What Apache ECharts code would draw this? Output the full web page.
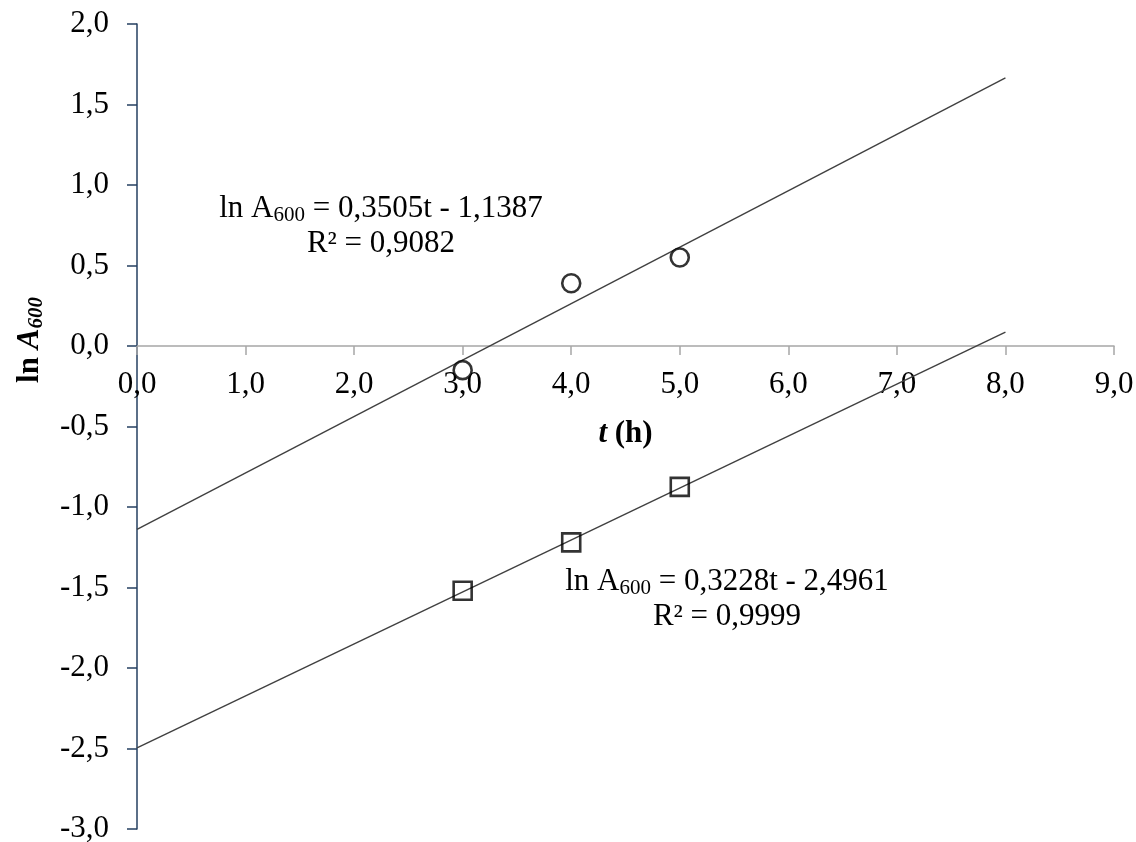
<!DOCTYPE html>
<html>
<head>
<meta charset="utf-8">
<script src="https://cdn.jsdelivr.net/npm/echarts@6/dist/echarts.min.js"></script>
<style>
  html, body { margin: 0; padding: 0; background: #fff; }
  #main { width: 1136px; height: 842px; }
</style>
</head>
<body>
<div id="main"></div>
<script>
var hours = [3, 4, 5];
var circleValues = [-0.15, 0.39, 0.55];
var squareValues = [-1.52, -1.22, -0.875];
// trendlines drawn from t = 0 to t = 8
var trendT = [0, 8];
var trendCircle = [-1.1387, 1.6653];
var trendSquare = [-2.4961, 0.0863];

function pairs(xs, ys) {
    return xs.map(function (x, i) { return [x, ys[i]]; });
}
function comma(v) {
    return v.toFixed(1).replace('.', ',');
}

var serif = 'Liberation Serif';
var eqRich = {
    a: { fontFamily: serif, fontSize: 31, fill: '#000', lineHeight: 35 },
    s: { fontFamily: serif, fontSize: 21, fill: '#000', verticalAlign: 'bottom', lineHeight: 22 }
};

var myChart = echarts.init(document.getElementById('main'));
var option = {
    backgroundColor: '#fff',
    animation: false,
    grid: { left: 137, right: 22, top: 24, bottom: 13, outerBoundsMode: 'none', containLabel: false },
    xAxis: {
        type: 'value',
        min: 0, max: 9, interval: 1,
        position: 'bottom',
        offset: -483,
        name: '{i|t}{b| (h)}',
        nameLocation: 'middle',
        nameGap: 72,
        nameTextStyle: {
            rich: {
                i: { fontFamily: serif, fontSize: 31, fontStyle: 'italic', fontWeight: 'bold', color: '#000' },
                b: { fontFamily: serif, fontSize: 31, fontWeight: 'bold', color: '#000' }
            }
        },
        axisLine: { onZero: false, lineStyle: { color: '#a6a6a6', width: 1.5 } },
        axisTick: { show: true, length: 9, lineStyle: { color: '#a6a6a6', width: 1.5 } },
        axisLabel: { formatter: comma, fontFamily: serif, fontSize: 31, color: '#000', margin: 23 },
        splitLine: { show: false }
    },
    yAxis: {
        type: 'value',
        min: -3, max: 2, interval: 0.5,
        axisLine: { show: true, onZero: false, lineStyle: { color: '#243f60', width: 1.5 } },
        axisTick: { show: true, length: 10, lineStyle: { color: '#243f60', width: 1.5 } },
        axisLabel: { formatter: comma, fontFamily: serif, fontSize: 31, color: '#000', margin: 28 },
        splitLine: { show: false }
    },
    graphic: [
        {
            type: 'text', x: 30, y: 340, rotation: Math.PI / 2,
            style: {
                text: '{b|ln }{i|A}{s|600}',
                align: 'center',
                verticalAlign: 'middle',
                rich: {
                    b: { fontFamily: serif, fontSize: 31, fontWeight: 'bold', fill: '#000', lineHeight: 35 },
                    i: { fontFamily: serif, fontSize: 31, fontWeight: 'bold', fontStyle: 'italic', fill: '#000', lineHeight: 35 },
                    s: { fontFamily: serif, fontSize: 21, fontWeight: 'bold', fontStyle: 'italic', fill: '#000', verticalAlign: 'bottom', lineHeight: 22 }
                }
            }
        },
        {
            type: 'text', x: 381, y: 191,
            style: {
                text: '{a|ln A}{s|600}{a| = 0,3505t - 1,1387}\n{a|R² = 0,9082}',
                align: 'center',
                verticalAlign: 'top',
                rich: eqRich
            }
        },
        {
            type: 'text', x: 727, y: 564,
            style: {
                text: '{a|ln A}{s|600}{a| = 0,3228t - 2,4961}\n{a|R² = 0,9999}',
                align: 'center',
                verticalAlign: 'top',
                rich: eqRich
            }
        }
    ],
    series: [
        {
            type: 'line', data: pairs(trendT, trendCircle), symbol: 'none',
            lineStyle: { color: '#404040', width: 1.4 }, z: 1
        },
        {
            type: 'line', data: pairs(trendT, trendSquare), symbol: 'none',
            lineStyle: { color: '#404040', width: 1.4 }, z: 1
        },
        {
            type: 'scatter', data: pairs(hours, circleValues), symbol: 'circle', symbolSize: 18,
            itemStyle: { color: '#fff', borderColor: '#000', borderWidth: 2.6 }, z: 3
        },
        {
            type: 'scatter', data: pairs(hours, squareValues), symbol: 'rect', symbolSize: 18,
            itemStyle: { color: 'rgba(255,255,255,0)', borderColor: '#000', borderWidth: 2.6 }, z: 3
        }
    ]
};
myChart.setOption(option);
window.onresize = function () { myChart.resize(); };
</script>
</body>
</html>
